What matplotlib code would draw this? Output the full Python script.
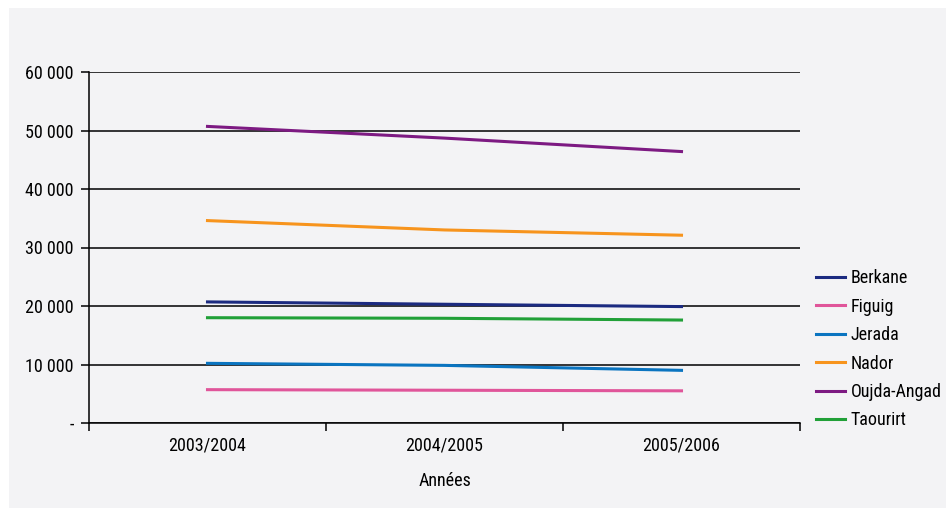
import matplotlib

matplotlib.use("Agg")
import matplotlib.pyplot as plt
from matplotlib.ticker import FuncFormatter

years = ["2003/2004", "2004/2005", "2005/2006"]
berkane = [20700, 20300, 19900]
figuig = [5700, 5600, 5500]
jerada = [10200, 9850, 9000]
nador = [34600, 33000, 32100]
oujda = [50700, 48700, 46400]
taourirt = [18000, 17900, 17600]

series = [
    ("Berkane", berkane, "#1b2a80"),
    ("Figuig", figuig, "#e0559a"),
    ("Jerada", jerada, "#0a74c0"),
    ("Nador", nador, "#f7941d"),
    ("Oujda-Angad", oujda, "#7d1a82"),
    ("Taourirt", taourirt, "#21a038"),
]

plt.rcParams["font.family"] = ["Roboto Condensed", "Roboto", "DejaVu Sans"]
fs = 13

fig = plt.figure(figsize=(9.46, 5.08), dpi=100, facecolor="white")
# light background panel, white margin at top/left
bg = fig.add_axes([9 / 946, 0, 1 - 9 / 946, 1 - 8 / 508])
bg.set_facecolor("#f3f3f5")
bg.set_xticks([])
bg.set_yticks([])
for s in bg.spines.values():
    s.set_visible(False)

ax = fig.add_axes([89 / 946, 1 - 423 / 508, (800 - 89) / 946, (423 - 72) / 508])
ax.patch.set_alpha(0)

x = list(range(len(years)))
for name, vals, color in series:
    ax.plot(x, vals, color=color, linewidth=2.2, label=name)

ax.set_xlim(-0.5, 2.5)
ax.set_ylim(0, 60000)
ax.set_yticks(range(0, 60001, 10000))
ax.yaxis.set_major_formatter(
    FuncFormatter(lambda v, p: "-" if v == 0 else f"{int(v):,}".replace(",", " "))
)
ax.grid(axis="y", color="black", linewidth=1.1)
ax.set_axisbelow(True)

ax.set_xticks([-0.5, 0.5, 1.5, 2.5])
ax.set_xticklabels([])
ax.set_xticks(x, minor=True)
ax.set_xticklabels(years, minor=True)
ax.tick_params(axis="x", which="minor", length=0, pad=10, labelsize=fs)
ax.tick_params(axis="x", which="major", length=6, width=1.1, direction="out")
ax.tick_params(axis="y", length=6, width=1.1, labelsize=fs, pad=5)

for side in ("top", "right"):
    ax.spines[side].set_visible(False)
ax.spines["left"].set_linewidth(1.1)
ax.spines["bottom"].set_linewidth(1.1)

ax.set_xlabel("Années", fontsize=fs, labelpad=12)

ax.legend(
    loc="center left",
    bbox_to_anchor=(1.0, 0.21),
    frameon=False,
    fontsize=fs,
    handlelength=1.6,
    handletextpad=0.3,
    labelspacing=0.58,
)

fig.savefig("out.png", dpi=100, facecolor=fig.get_facecolor())
